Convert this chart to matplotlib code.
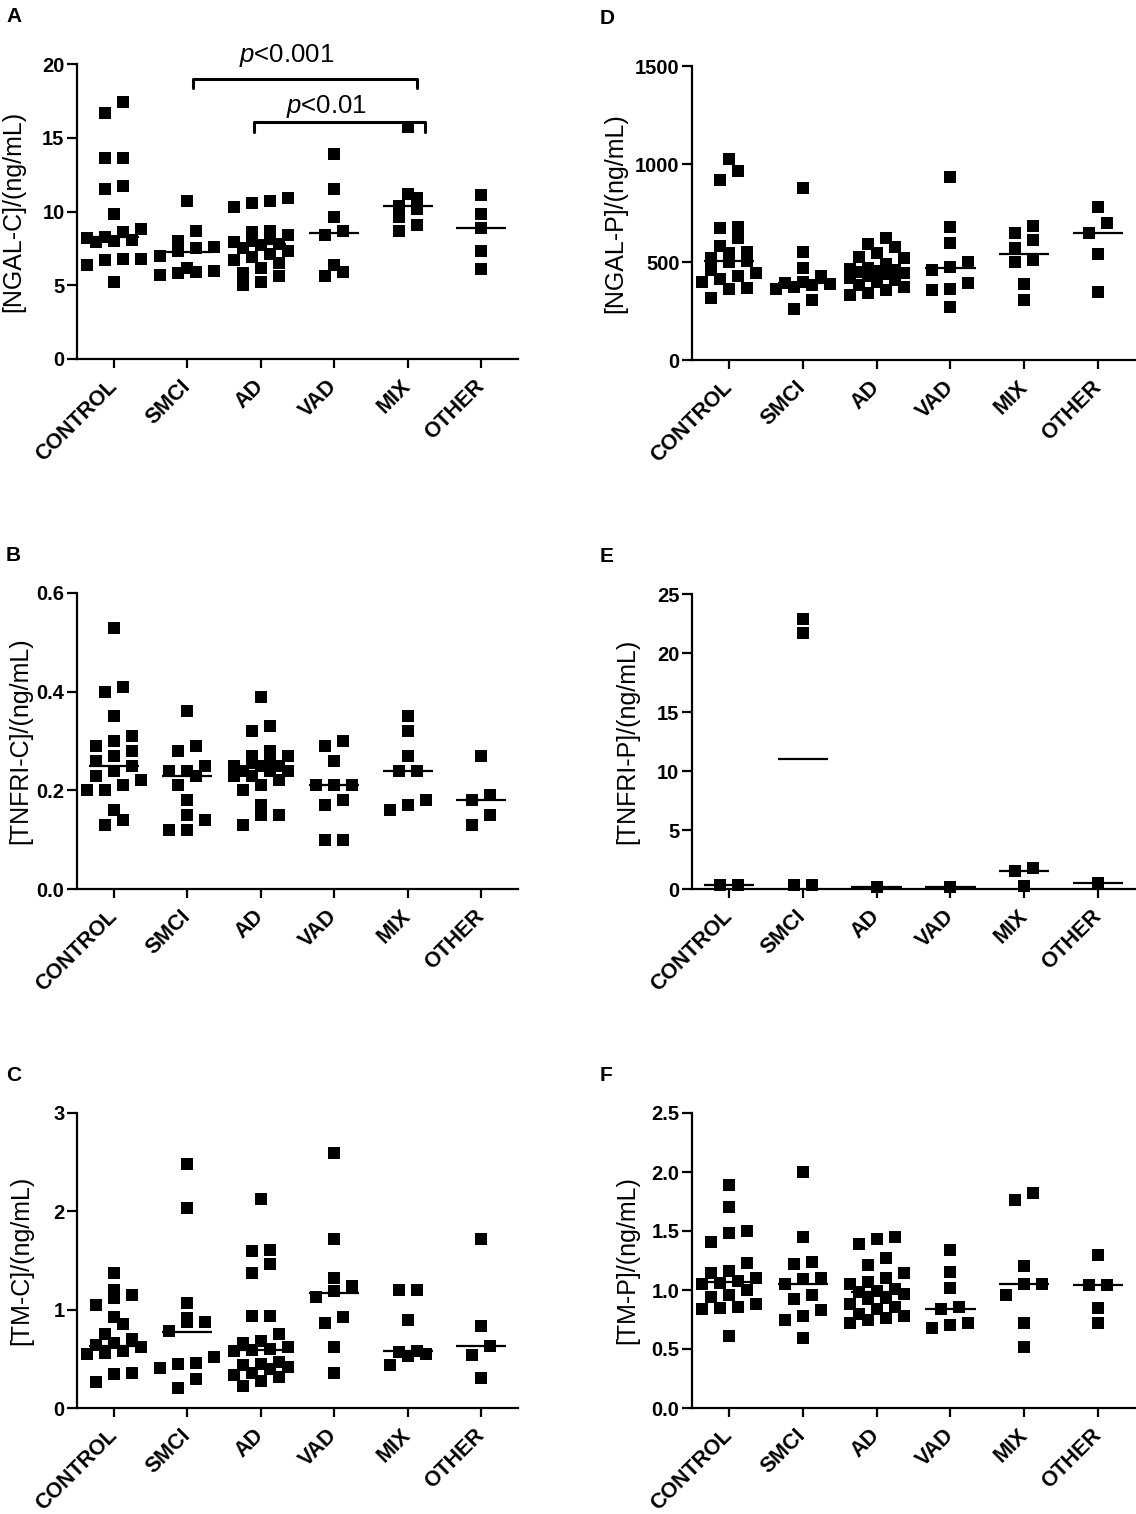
import matplotlib
matplotlib.use('Agg')
import matplotlib.pyplot as plt
import matplotlib.transforms as mtransforms
import numpy as np

plt.rcParams['font.family'] = ['Liberation Sans', 'DejaVu Sans']
plt.rcParams['mathtext.fontset'] = 'custom'
plt.rcParams['mathtext.it'] = 'Liberation Sans:italic'
plt.rcParams['mathtext.rm'] = 'Liberation Sans'

groups = ['CONTROL', 'SMCI', 'AD', 'VAD', 'MIX', 'OTHER']

# A - NGAL in CSF
ngal_c = [
    [17.4, 16.7, 13.6, 13.6, 11.7, 11.5, 9.8, 8.8, 8.6, 8.3, 8.2, 8.1, 8.0, 7.9, 6.8, 6.8, 6.7, 6.4, 5.2],
    [10.7, 8.7, 8.0, 7.6, 7.5, 7.3, 7.0, 6.2, 6.0, 5.9, 5.8, 5.7],
    [10.9, 10.7, 10.6, 10.3, 8.7, 8.6, 8.4, 8.2, 8.0, 7.9, 7.8, 7.7, 7.5, 7.3, 7.1, 6.9, 6.7, 6.5,
     6.2, 5.8, 5.6, 5.2, 5.0],
    [13.9, 11.5, 9.6, 8.7, 8.4, 6.4, 5.9, 5.6],
    [15.7, 11.2, 10.9, 10.4, 10.2, 9.6, 9.1, 8.7],
    [11.1, 9.8, 8.9, 7.3, 6.1],
]
ngal_c_med = [8.25, 7.25, 7.8, 8.55, 10.35, 8.9]

# B - TNFRI in CSF
tnfri_c = [
    [0.53, 0.41, 0.40, 0.35, 0.31, 0.30, 0.29, 0.28, 0.27, 0.26, 0.25, 0.24, 0.23, 0.22, 0.21,
     0.20, 0.20, 0.16, 0.14, 0.13],
    [0.36, 0.29, 0.28, 0.25, 0.24, 0.24, 0.23, 0.21, 0.18, 0.15, 0.14, 0.12, 0.12],
    [0.39, 0.33, 0.32, 0.28, 0.27, 0.27, 0.26, 0.26, 0.25, 0.25, 0.25, 0.24, 0.24, 0.24, 0.23,
     0.23, 0.22, 0.21, 0.20, 0.17, 0.15, 0.15, 0.13],
    [0.30, 0.29, 0.26, 0.21, 0.21, 0.21, 0.18, 0.17, 0.10, 0.10],
    [0.35, 0.32, 0.27, 0.24, 0.24, 0.18, 0.17, 0.16],
    [0.27, 0.19, 0.18, 0.15, 0.13],
]
tnfri_c_med = [0.25, 0.23, 0.245, 0.21, 0.24, 0.18]

# C - TM in CSF
tm_c = [
    [1.37, 1.20, 1.15, 1.12, 1.05, 0.93, 0.85, 0.75, 0.70, 0.66, 0.64, 0.62, 0.58, 0.56, 0.55,
     0.36, 0.35, 0.26],
    [2.48, 2.03, 1.07, 0.92, 0.87, 0.87, 0.78, 0.52, 0.46, 0.45, 0.41, 0.30, 0.20],
    [2.13, 1.61, 1.60, 1.46, 1.37, 0.94, 0.94, 0.75, 0.68, 0.66, 0.62, 0.60, 0.59, 0.58, 0.47,
     0.45, 0.44, 0.42, 0.40, 0.36, 0.34, 0.32, 0.27, 0.22],
    [2.59, 1.72, 1.32, 1.24, 1.19, 1.13, 0.93, 0.86, 0.62, 0.36],
    [1.20, 1.20, 0.89, 0.58, 0.57, 0.55, 0.53, 0.44],
    [1.72, 0.83, 0.63, 0.54, 0.31],
]
tm_c_med = [0.635, 0.775, 0.59, 1.165, 0.575, 0.63]

# D - NGAL in plasma
ngal_p = [
    [1028, 963, 917, 680, 671, 620, 583, 552, 545, 520, 505, 500, 460, 442, 430, 415, 400, 365, 360, 314],
    [878, 552, 467, 430, 400, 395, 390, 385, 375, 360, 306, 258],
    [620, 590, 575, 545, 525, 520, 490, 470, 465, 460, 455, 450, 445, 440, 430, 420, 410, 400,
     385, 370, 355, 340, 330],
    [934, 680, 598, 501, 476, 459, 391, 360, 357, 272],
    [683, 649, 612, 569, 510, 501, 386, 306],
    [781, 700, 646, 540, 348],
]
ngal_p_med = [503, 391, 450, 467, 540, 646]

# E - TNFRI in plasma
tnfri_p = [
    [0.33, 0.37],
    [22.9, 21.7, 0.34, 0.34],
    [0.2],
    [0.2],
    [1.75, 1.55, 0.28],
    [0.5],
]
tnfri_p_med = [0.35, 11.0, 0.2, 0.2, 1.55, 0.5]

# F - TM in plasma
tm_p = [
    [1.89, 1.70, 1.50, 1.48, 1.41, 1.23, 1.16, 1.14, 1.10, 1.08, 1.06, 1.05, 1.00, 0.96, 0.94,
     0.88, 0.86, 0.85, 0.84, 0.61],
    [2.00, 1.45, 1.24, 1.22, 1.10, 1.09, 1.05, 0.96, 0.92, 0.83, 0.78, 0.75, 0.59],
    [1.45, 1.43, 1.39, 1.27, 1.21, 1.14, 1.10, 1.07, 1.05, 1.01, 0.99, 0.98, 0.97, 0.93, 0.92,
     0.88, 0.86, 0.84, 0.80, 0.78, 0.76, 0.75, 0.72],
    [1.34, 1.15, 1.02, 0.86, 0.84, 0.72, 0.70, 0.68],
    [1.82, 1.76, 1.20, 1.05, 1.05, 0.96, 0.72, 0.52],
    [1.30, 1.04, 1.04, 0.85, 0.72],
]
tm_p_med = [1.07, 1.055, 0.98, 0.84, 1.055, 1.045]

W, H = 1136, 1514


def rect(l, t, r, b):
    return [l / W, 1 - b / H, (r - l) / W, (b - t) / H]


def spread(vals, ppx, ppy, size=11.0, step=18.0):
    # graphpad-like column scatter: close points go side by side,
    # full rows alternate between 4 and 3 wide so clusters don't form stripes
    vals = np.asarray(vals, dtype=float)
    order = np.argsort(vals)
    offs = np.zeros(len(vals))
    rows = []
    cap = 4
    for i in order:
        if rows and len(rows[-1]) < cap and (vals[i] - vals[rows[-1][0]]) * ppy < size:
            rows[-1].append(i)
        else:
            if rows and len(rows[-1]) == cap:
                cap = 7 - cap
            else:
                cap = 4
            rows.append([i])
    for row in rows:
        n = len(row)
        for k, i in enumerate(row):
            offs[i] = (k - (n - 1) / 2) * step / ppx
    return offs


panels = [
    ('A', (77, 64, 518, 359), ngal_c, ngal_c_med, 20, [0, 5, 10, 15, 20], '%d', '[NGAL-C]/(ng/mL)', 13),
    ('B', (77, 593, 518, 889), tnfri_c, tnfri_c_med, 0.6, [0, 0.2, 0.4, 0.6], '%.1f', '[TNFRI-C]/(ng/mL)', 20),
    ('C', (77, 1113, 518, 1408), tm_c, tm_c_med, 3, [0, 1, 2, 3], '%d', '[TM-C]/(ng/mL)', 21),
    ('D', (692, 66, 1135, 360), ngal_p, ngal_p_med, 1500, [0, 500, 1000, 1500], '%d', '[NGAL-P]/(ng/mL)', 615),
    ('E', (692, 594, 1135, 889), tnfri_p, tnfri_p_med, 25, [0, 5, 10, 15, 20, 25], '%d', '[TNFRI-P]/(ng/mL)', 627),
    ('F', (692, 1113, 1135, 1408), tm_p, tm_p_med, 2.5, [0, 0.5, 1.0, 1.5, 2.0, 2.5], '%.1f', '[TM-P]/(ng/mL)', 627),
]

fig = plt.figure(figsize=(W / 100, H / 100), dpi=100)
shift = mtransforms.ScaledTranslation(-5 / 72, -5 / 72, fig.dpi_scale_trans)

axes = {}
for letter, box, data, med, ymax, yt, fmt, ylab, lx in panels:
    ax = fig.add_axes(rect(*box))
    axes[letter] = ax
    ppx = (box[2] - box[0]) / 6.0
    ppy = (box[3] - box[1]) / ymax
    for i, vals in enumerate(data):
        offs = spread(vals, ppx, ppy)
        ax.plot(i + offs, vals, 's', color='black', ms=8.8, mew=0, clip_on=False, zorder=3)
        ax.hlines(med[i], i - 0.34, i + 0.34, color='black', lw=1.6, zorder=4)
    ax.set_xlim(-0.5, 5.5)
    ax.set_ylim(0, ymax)
    ax.spines[['top', 'right']].set_visible(False)
    ax.spines[['left', 'bottom']].set_linewidth(1.6)
    ax.set_xticks(range(6))
    ax.set_xticklabels(groups, rotation=45, ha='right', va='center', rotation_mode='anchor',
                       fontsize=15.5, fontweight='bold')
    for lab in ax.get_xticklabels():
        lab.set_transform(lab.get_transform() + shift)
    ax.set_yticks(yt)
    ax.set_yticklabels([fmt % v for v in yt], fontsize=14.5, fontweight='bold')
    ax.tick_params(axis='x', length=6.5, width=1.6, pad=11)
    ax.tick_params(axis='y', length=7, width=1.6, pad=2)
    fig.text(lx / W, 1 - (box[1] + box[3]) / 2 / H, ylab, rotation=90,
             ha='center', va='center', fontsize=18)
    fig.text((6 if box[0] < 300 else 600) / W, 1 - (box[1] - 57 if letter in 'AD' else box[1] - 47) / H,
             letter, fontsize=15, fontweight='bold', va='top')

# significance brackets on A
ax = axes['A']
ax.plot([1.08, 1.08, 4.13, 4.13], [18.36, 18.96, 18.96, 18.36], color='black', lw=2.2,
        clip_on=False, solid_capstyle='round', solid_joinstyle='round')
ax.plot([1.91, 1.91, 4.23, 4.23], [15.41, 16.09, 16.09, 15.41], color='black', lw=2.2,
        clip_on=False, solid_capstyle='round', solid_joinstyle='round')
ax.text(2.35, 20.6, '$p$<0.001', ha='center', va='center', fontsize=18.5, clip_on=False)
ax.text(2.90, 17.1, '$p$<0.01', ha='center', va='center', fontsize=18.5, clip_on=False)

fig.savefig('out.png', dpi=100)
